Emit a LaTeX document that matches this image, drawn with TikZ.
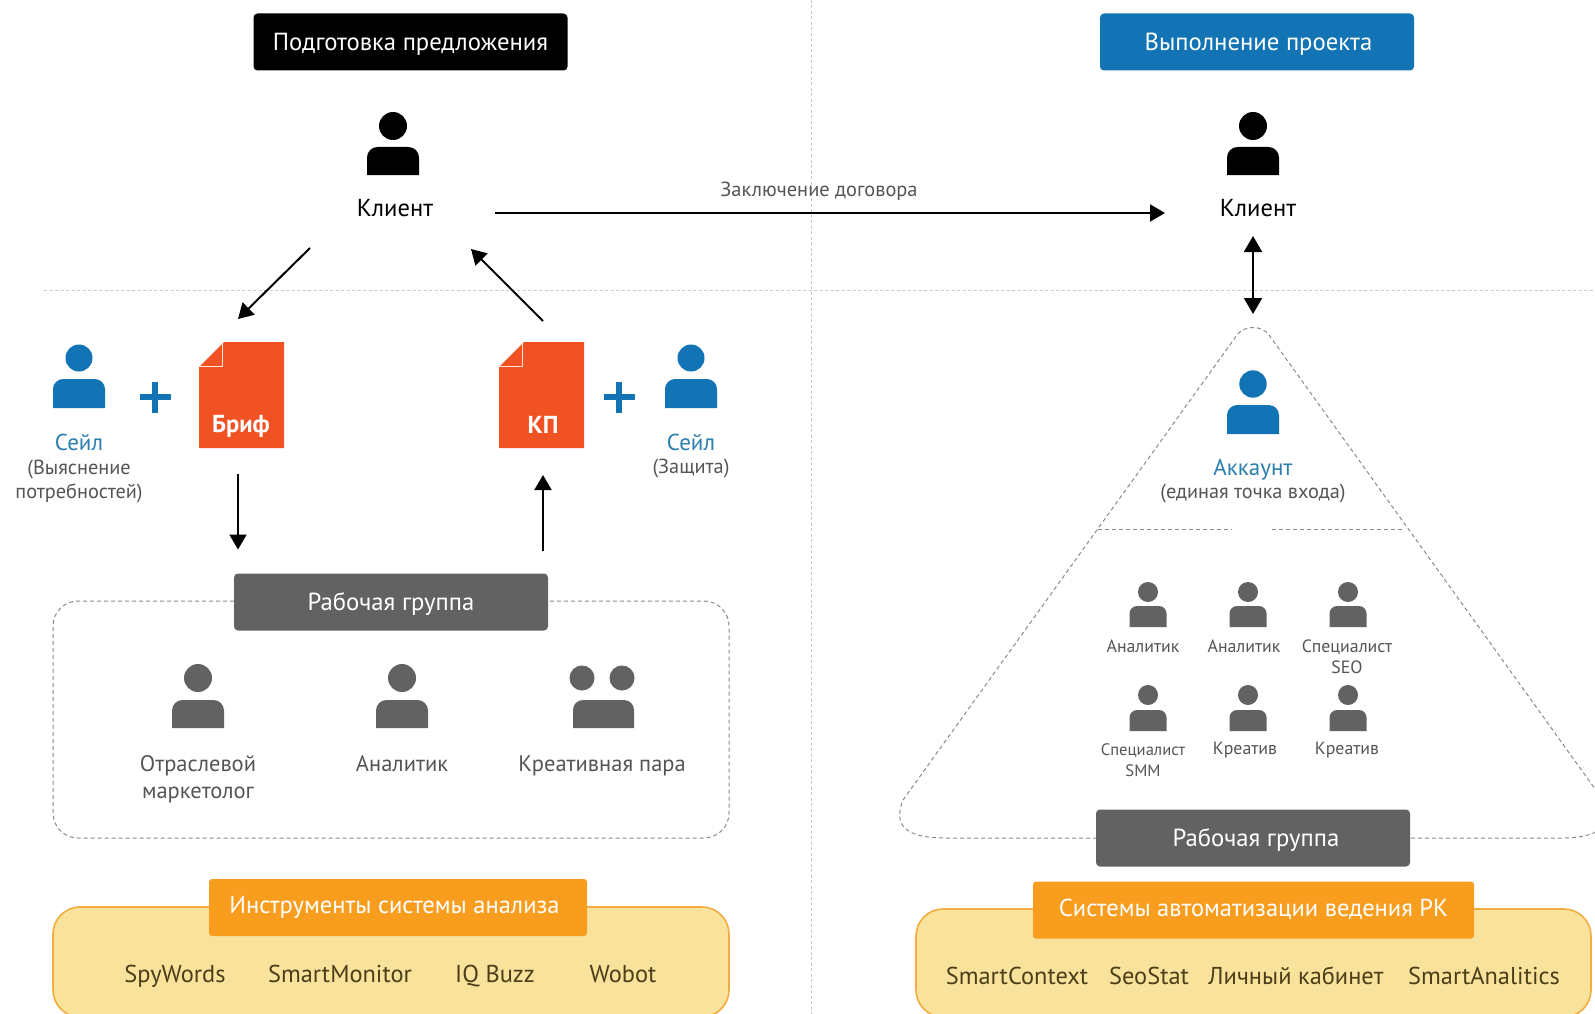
\documentclass[tikz,border=0pt]{standalone}
\usepackage{fontspec}
\setmainfont{PT Sans}
\usetikzlibrary{arrows.meta,calc}
\definecolor{cblue}{HTML}{1274B4}
\definecolor{ctextblue}{HTML}{2A7FAE}
\definecolor{cgray}{HTML}{626262}
\definecolor{ctext}{HTML}{555555}
\definecolor{cred}{HTML}{F15223}
\definecolor{corange}{HTML}{F99D1F}
\definecolor{cyellow}{HTML}{F9E29B}
\definecolor{cborder}{HTML}{F3AC3F}
\definecolor{cbrown}{HTML}{4C3E18}
\definecolor{cdash}{HTML}{C9C9C9}
\definecolor{cdashb}{HTML}{8A8A8A}
\newcommand{\fsz}[1]{\fontsize{#1}{#1}\selectfont}
\newcommand{\cb}[1]{\raisebox{-8.5pt}[0pt][0pt]{#1}}
\tikzset{
  x=1pt,y=-1pt,
  every node/.style={inner sep=0pt,outer sep=0pt,align=center},
  titlebox/.style={rounded corners=4pt,minimum width=314pt,minimum height=57pt,text=white,font=\fsz{24.7}},
  orangebox/.style={rounded corners=3pt,fill=corange,minimum height=57pt,text=white,font=\fsz{24.5}},
  greybox/.style={titlebox,fill=cgray},
  lab/.style={text=black,font=\fsz{24.5},minimum width=80pt,minimum height=24pt},
  txt/.style={text=ctext,font=\fsz{22.5}},
  small/.style={text=ctext,font=\fsz{17.8}},
  smallb/.style={text=ctext,font=\fsz{16.6}},
  mid/.style={text=ctext,font=\fsz{20.4}},
  bluelab/.style={text=ctextblue,font=\fsz{23}},
  graylab/.style={text=ctext,font=\fsz{20.3}},
  item/.style={text=cbrown,font=\fsz{24.4},anchor=base},
  doclab/.style={text=white,font=\fsz{24.5}\bfseries},
  arr/.style={line width=2pt,-{Triangle[length=15pt,width=17pt]}},
  darr/.style={line width=2pt,{Triangle[length=16pt,width=18pt]}-{Triangle[length=16pt,width=18pt]}},
  guide/.style={draw=cdash,line width=0.9pt,dash pattern=on 3pt off 2.5pt},
  dashbox/.style={draw=cdashb,line width=1pt,dash pattern=on 4pt off 3pt},
  panel/.style={fill=cyellow,draw=cborder,line width=1.6pt,rounded corners=27pt},
  docfold/.style={draw=white!85!cred,line width=1.3pt},
  plus/.style={draw=cblue,line width=5.5pt}
}
% centre x, head y, head r, body top, body bottom, half width, colour
\newcommand{\personfig}[7]{%
  \fill[#7] (#1,#2) circle[radius=#3];
  \fill[#7] ({#1-#6},#5) [rounded corners=#3*0.75pt] -- ({#1-#6},#4) -- ({#1+#6},#4) [sharp corners] -- ({#1+#6},#5) -- cycle;
}
\newcommand{\docfig}[3]{% left, top, colour
  \fill[#3] ({#1+25},#2) -- ({#1+85},#2) -- ({#1+85},{#2+106}) -- (#1,{#2+106}) -- (#1,{#2+25}) -- cycle;
  \draw[docfold] ({#1+23.5},{#2+1}) -- ({#1+23.5},{#2+24.5}) -- (#1,{#2+24.5});
}
\newcommand{\plusfig}[2]{%
  \draw[plus] ({#1-15.5},#2) -- ({#1+15.5},#2);
  \draw[plus] (#1,{#2-15.5}) -- (#1,{#2+15.5});
}
\begin{document}
\begin{tikzpicture}
\useasboundingbox (0,0) rectangle (1595,1014);
\clip (0,0) rectangle (1595,1014);
\fill[white] (0,0) rectangle (1595,1014);
% guides
\draw[guide] (811,0) -- (811,1014);
\draw[guide] (44,290) -- (1595,290);
% titles
\node[titlebox,fill=black] (t1) at (410.5,42) {\cb{Подготовка предложения}};
\node[titlebox,fill=cblue] (t2) at (1257,42) {\hspace*{3pt}\cb{Выполнение проекта}};
% clients
\personfig{393}{126}{14}{147}{175}{26}{black}
\personfig{1253}{126}{14}{147}{175}{26}{black}
\node[lab] (clientL) at (395,208.5) {Клиент};
\node[lab] (clientR) at (1258,208.5) {Клиент};
\node[mid] (contract) at (819,191) {Заключение договора};
% left persons and documents
\personfig{79}{358}{13.5}{379}{408}{26}{cblue}
\plusfig{155}{397}
\docfig{199}{342}{cred}
\node[minimum width=85pt,minimum height=106pt] (brief) at (241.5,395) {};
\node[doclab] (brieflab) at (241,426) {Бриф};
\node[bluelab] (sale1) at (79,442) {Сейл};
\node[graylab] (sale1a) at (79,481.5) {(Выяснение\\[4pt]потребностей)};
\docfig{499}{342}{cred}
\node[minimum width=85pt,minimum height=106pt] (kp) at (541.5,395) {};
\node[doclab] (kplab) at (543,425) {КП};
\plusfig{619}{397}
\personfig{691}{358}{13.5}{379}{408}{26}{cblue}
\node[bluelab] (sale2) at (691,442) {Сейл};
\node[graylab] (sale2a) at (691,469) {(Защита)};
% working group left
\draw[dashbox,rounded corners=25pt] (234,601) -- (53,601) -- (53,838) -- (729,838) -- (729,601) -- (548,601);
\node[greybox] (gwork) at (391,602) {\cb{Рабочая группа}};
\personfig{198}{678}{14}{700}{728}{26}{cgray}
\personfig{402}{678}{14}{700}{728}{26}{cgray}
\fill[cgray] (582,678) circle[radius=12.5];
\fill[cgray] (622,678) circle[radius=12.5];
\fill[cgray] (573,728) [rounded corners=10pt] -- (573,700) -- (634,700) [sharp corners] -- (634,728) -- cycle;
\node[txt] (g1) at (198,779) {Отраслевой\\[4pt]маркетолог};
\node[txt] (g2) at (402,764) {Аналитик};
\node[txt] (g3) at (602,766) {Креативная пара};
% tools left
\draw[panel] (53,907) rectangle (729,1017);
\node[orangebox,minimum width=378pt] (tools) at (398,907.5) {\hspace*{-7pt}\raisebox{-6pt}[0pt][0pt]{Инструменты системы анализа}};
\node[item] (i1) at (175,982) {SpyWords};
\node[item] (i2) at (340,982) {SmartMonitor};
\node[item] (i3) at (495,982) {IQ Buzz};
\node[item] (i4) at (623,982) {Wobot};
% pyramid
\coordinate (apex) at (1253,329);
\draw[dashbox] (1097,838) -- (945,838) .. controls (905,838) and (893,825) .. (903,800) -- (1237,335) .. controls (1244,325) and (1262,325) .. (1269,335) -- (1603,800) .. controls (1613,825) and (1601,838) .. (1561,838) -- (1411,838);
\draw[dashbox] (1098,529) -- (1232,529);
\draw[dashbox] (1272,529) -- (1402,529);
\personfig{1253}{384}{13.7}{405}{434}{26}{cblue}
\node[bluelab] (acc) at (1253,470) {Аккаунт};
\node[graylab] (acca) at (1253,494) {(единая точка входа)};
% small people
\foreach \bx in {1148,1248,1348}{
  \personfig{\bx}{592}{10}{606}{627}{18.5}{cgray}
  \personfig{\bx}{695}{10}{710}{731}{18.5}{cgray}
}
\node[small] (s1) at (1143,646) {Аналитик};
\node[small] (s2) at (1244,646) {Аналитик};
\node[small] (s3) at (1347,656.5) {Специалист\\[3pt]SEO};
\node[smallb] (s4) at (1143,760) {Специалист\\[4pt]SMM};
\node[small] (s5) at (1245,750.5) {Креатив};
\node[small] (s6) at (1347,750.5) {Креатив};
\node[greybox] (gwork2) at (1253,838) {\hspace*{6pt}\cb{Рабочая группа}};
% tools right
\draw[panel] (916,909) rectangle (1591,1017);
\node[orangebox,minimum width=441pt] (sys) at (1253.5,910) {\raisebox{-6pt}[0pt][0pt]{Системы автоматизации ведения РК}};
\node[item] (j1) at (1017,984) {SmartContext};
\node[item] (j2) at (1149,984) {SeoStat};
\node[item] (j3) at (1296,984) {Личный кабинет};
\node[item] (j4) at (1484,984) {SmartAnalitics};
% connectors
\draw[arr] ([shift={(60,4.5)}]clientL.east) -- ([shift={(-53,4.5)}]clientR.west);
\draw[arr] ([shift={(-45,27.5)}]clientL.south west) -- ([shift={(-3.5,-23)}]brief.north);
\draw[arr] ([shift={(1.5,-21)}]kp.north) -- ([shift={(36,28.5)}]clientL.south east);
\draw[arr] ([shift={(-3.5,26)}]brief.south) -- ([shift={(4,-24)}]gwork.north west);
\draw[arr] ([shift={(-5,-23)}]gwork.north east) -- ([shift={(1.5,27)}]kp.south);
\draw[darr] ([shift={(-5,15.5)}]clientR.south) -- ([shift={(0,-15)}]apex);
\end{tikzpicture}
\end{document}
